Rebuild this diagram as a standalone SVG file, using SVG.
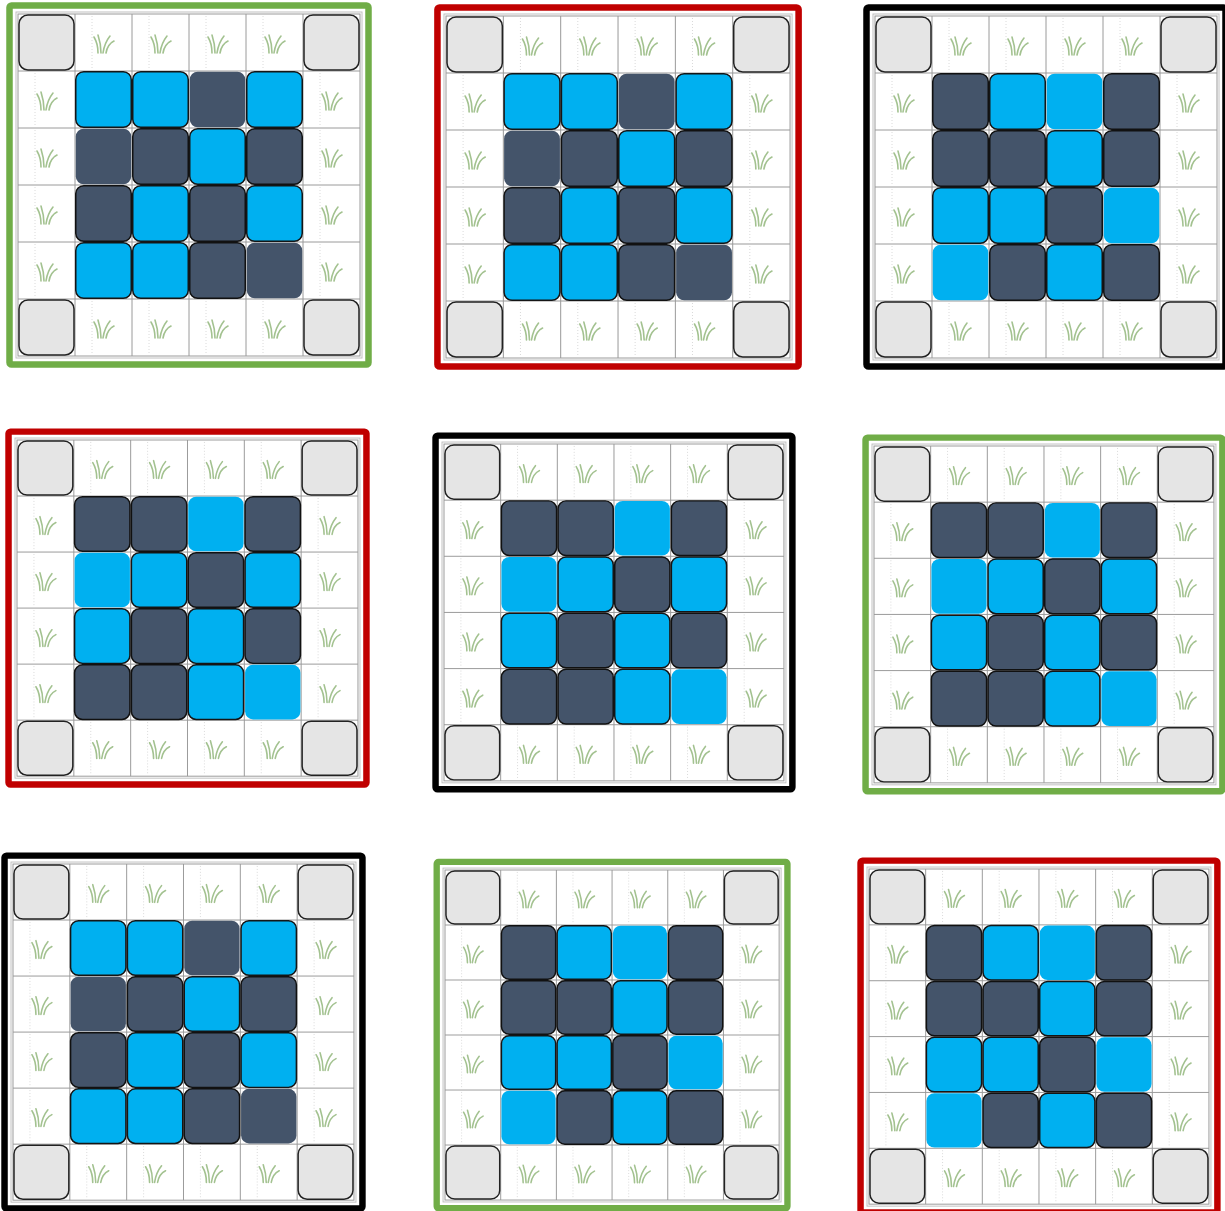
<svg xmlns="http://www.w3.org/2000/svg" xmlns:xlink="http://www.w3.org/1999/xlink" width="1225" height="1211" viewBox="0 0 1225 1211">
<style>
.bg{fill:#ffffff}
.gl{stroke:#9a9a9a;stroke-width:1;fill:none}
.gl2{stroke:#c0c0c0;stroke-width:1;fill:none}
.dot{stroke:#d0d0d0;stroke-width:0.8;stroke-dasharray:1 2;fill:none}
.blade{stroke:#a3c290;stroke-width:1.6;fill:none;stroke-linecap:round}
.corner{fill:#e5e5e5;stroke:#222;stroke-width:1.5}
.b{fill:#00b0f0;stroke:#151515;stroke-width:1.5}
.d{fill:#44546a;stroke:#111;stroke-width:1.5}
.nb{stroke:none}
.frame{fill:none;stroke-width:6.5}
.green{stroke:#70ad47}
.red{stroke:#c00000}
.black{stroke:#000000}
</style>
<defs>
<g id="grasscell">
<line class="dot" x1="17" y1="2" x2="17" y2="55"/>
<g transform="translate(18,18)">
<path class="blade" d="M5 21 C5 15 4 10 1 5"/>
<path class="blade" d="M8 21 C8 14 7 9 5 3"/>
<path class="blade" d="M10 21 C11 14 13 9 17 4"/>
<path class="blade" d="M13 21 C14 15 17 11 21 9"/>
</g>
</g>
<g id="board">
<rect class="bg" x="0" y="0" width="342" height="342"/>
<rect class="gl2" x="-2" y="-2" width="346" height="346"/>
<use href="#grasscell" x="57" y="0"/>
<use href="#grasscell" x="114" y="0"/>
<use href="#grasscell" x="171" y="0"/>
<use href="#grasscell" x="228" y="0"/>
<use href="#grasscell" x="57" y="285"/>
<use href="#grasscell" x="114" y="285"/>
<use href="#grasscell" x="171" y="285"/>
<use href="#grasscell" x="228" y="285"/>
<use href="#grasscell" x="0" y="57"/>
<use href="#grasscell" x="0" y="114"/>
<use href="#grasscell" x="0" y="171"/>
<use href="#grasscell" x="0" y="228"/>
<use href="#grasscell" x="285" y="57"/>
<use href="#grasscell" x="285" y="114"/>
<use href="#grasscell" x="285" y="171"/>
<use href="#grasscell" x="285" y="228"/>
<path class="gl" d="M57 0V342M114 0V342M171 0V342M228 0V342M285 0V342M0 57H342M0 114H342M0 171H342M0 228H342M0 285H342"/>
<rect class="gl" x="0" y="0" width="342" height="342"/>
<rect class="corner" x="1" y="1" width="55" height="55" rx="9"/>
<rect class="corner" x="286" y="1" width="55" height="55" rx="9"/>
<rect class="corner" x="1" y="286" width="55" height="55" rx="9"/>
<rect class="corner" x="286" y="286" width="55" height="55" rx="9"/>
</g>
<g id="tilesA">
<rect class="b" x="57.75" y="57.75" width="55.5" height="55.5" rx="8"/>
<rect class="b" x="114.75" y="57.75" width="55.5" height="55.5" rx="8"/>
<rect class="d nb" x="171.75" y="57.75" width="55.5" height="55.5" rx="8"/>
<rect class="b" x="228.75" y="57.75" width="55.5" height="55.5" rx="8"/>
<rect class="d nb" x="57.75" y="114.75" width="55.5" height="55.5" rx="8"/>
<rect class="d" x="114.75" y="114.75" width="55.5" height="55.5" rx="8"/>
<rect class="b" x="171.75" y="114.75" width="55.5" height="55.5" rx="8"/>
<rect class="d" x="228.75" y="114.75" width="55.5" height="55.5" rx="8"/>
<rect class="d" x="57.75" y="171.75" width="55.5" height="55.5" rx="8"/>
<rect class="b" x="114.75" y="171.75" width="55.5" height="55.5" rx="8"/>
<rect class="d" x="171.75" y="171.75" width="55.5" height="55.5" rx="8"/>
<rect class="b" x="228.75" y="171.75" width="55.5" height="55.5" rx="8"/>
<rect class="b" x="57.75" y="228.75" width="55.5" height="55.5" rx="8"/>
<rect class="b" x="114.75" y="228.75" width="55.5" height="55.5" rx="8"/>
<rect class="d" x="171.75" y="228.75" width="55.5" height="55.5" rx="8"/>
<rect class="d nb" x="228.75" y="228.75" width="55.5" height="55.5" rx="8"/>
</g>
<g id="tilesB">
<rect class="d" x="57.75" y="57.75" width="55.5" height="55.5" rx="8"/>
<rect class="b" x="114.75" y="57.75" width="55.5" height="55.5" rx="8"/>
<rect class="b nb" x="171.75" y="57.75" width="55.5" height="55.5" rx="8"/>
<rect class="d" x="228.75" y="57.75" width="55.5" height="55.5" rx="8"/>
<rect class="d" x="57.75" y="114.75" width="55.5" height="55.5" rx="8"/>
<rect class="d" x="114.75" y="114.75" width="55.5" height="55.5" rx="8"/>
<rect class="b" x="171.75" y="114.75" width="55.5" height="55.5" rx="8"/>
<rect class="d" x="228.75" y="114.75" width="55.5" height="55.5" rx="8"/>
<rect class="b" x="57.75" y="171.75" width="55.5" height="55.5" rx="8"/>
<rect class="b" x="114.75" y="171.75" width="55.5" height="55.5" rx="8"/>
<rect class="d" x="171.75" y="171.75" width="55.5" height="55.5" rx="8"/>
<rect class="b nb" x="228.75" y="171.75" width="55.5" height="55.5" rx="8"/>
<rect class="b nb" x="57.75" y="228.75" width="55.5" height="55.5" rx="8"/>
<rect class="d" x="114.75" y="228.75" width="55.5" height="55.5" rx="8"/>
<rect class="b" x="171.75" y="228.75" width="55.5" height="55.5" rx="8"/>
<rect class="d" x="228.75" y="228.75" width="55.5" height="55.5" rx="8"/>
</g>
<g id="tilesC">
<rect class="d" x="57.75" y="57.75" width="55.5" height="55.5" rx="8"/>
<rect class="d" x="114.75" y="57.75" width="55.5" height="55.5" rx="8"/>
<rect class="b nb" x="171.75" y="57.75" width="55.5" height="55.5" rx="8"/>
<rect class="d" x="228.75" y="57.75" width="55.5" height="55.5" rx="8"/>
<rect class="b nb" x="57.75" y="114.75" width="55.5" height="55.5" rx="8"/>
<rect class="b" x="114.75" y="114.75" width="55.5" height="55.5" rx="8"/>
<rect class="d" x="171.75" y="114.75" width="55.5" height="55.5" rx="8"/>
<rect class="b" x="228.75" y="114.75" width="55.5" height="55.5" rx="8"/>
<rect class="b" x="57.75" y="171.75" width="55.5" height="55.5" rx="8"/>
<rect class="d" x="114.75" y="171.75" width="55.5" height="55.5" rx="8"/>
<rect class="b" x="171.75" y="171.75" width="55.5" height="55.5" rx="8"/>
<rect class="d" x="228.75" y="171.75" width="55.5" height="55.5" rx="8"/>
<rect class="d" x="57.75" y="228.75" width="55.5" height="55.5" rx="8"/>
<rect class="d" x="114.75" y="228.75" width="55.5" height="55.5" rx="8"/>
<rect class="b" x="171.75" y="228.75" width="55.5" height="55.5" rx="8"/>
<rect class="b nb" x="228.75" y="228.75" width="55.5" height="55.5" rx="8"/>
</g>
</defs>
<rect x="0" y="0" width="1225" height="1211" fill="#ffffff"/>
<g id="panel-1" transform="translate(18,14)">
<use href="#board"/><use href="#tilesA"/>
<rect class="frame green" x="-8.5" y="-8.5" width="359" height="359" rx="2"/>
</g>
<g id="panel-2" transform="translate(446,16) scale(1.006,1)">
<use href="#board"/><use href="#tilesA"/>
<rect class="frame red" x="-8.5" y="-8.5" width="359" height="359" rx="2"/>
</g>
<g id="panel-3" transform="translate(875,16)">
<use href="#board"/><use href="#tilesB"/>
<rect class="frame black" x="-8.5" y="-8.5" width="359" height="359" rx="2"/>
</g>
<g id="panel-4" transform="translate(17,440) scale(0.997,0.983)">
<use href="#board"/><use href="#tilesC"/>
<rect class="frame red" x="-8.5" y="-8.5" width="359" height="359" rx="2"/>
</g>
<g id="panel-5" transform="translate(444,444) scale(0.994,0.985)">
<use href="#board"/><use href="#tilesC"/>
<rect class="frame black" x="-8.5" y="-8.5" width="359" height="359" rx="2"/>
</g>
<g id="panel-6" transform="translate(874,446) scale(0.994,0.985)">
<use href="#board"/><use href="#tilesC"/>
<rect class="frame green" x="-8.5" y="-8.5" width="359" height="359" rx="2"/>
</g>
<g id="panel-7" transform="translate(13,864) scale(0.997,0.983)">
<use href="#board"/><use href="#tilesA"/>
<rect class="frame black" x="-8.5" y="-8.5" width="359" height="359" rx="2"/>
</g>
<g id="panel-8" transform="translate(445,870) scale(0.977,0.965)">
<use href="#board"/><use href="#tilesB"/>
<rect class="frame green" x="-8.5" y="-8.5" width="359" height="359" rx="2"/>
</g>
<g id="panel-9" transform="translate(869,869) scale(0.994,0.98)">
<use href="#board"/><use href="#tilesB"/>
<rect class="frame red" x="-8.5" y="-8.5" width="359" height="359" rx="2"/>
</g>
<g id="connectors"/>
</svg>
